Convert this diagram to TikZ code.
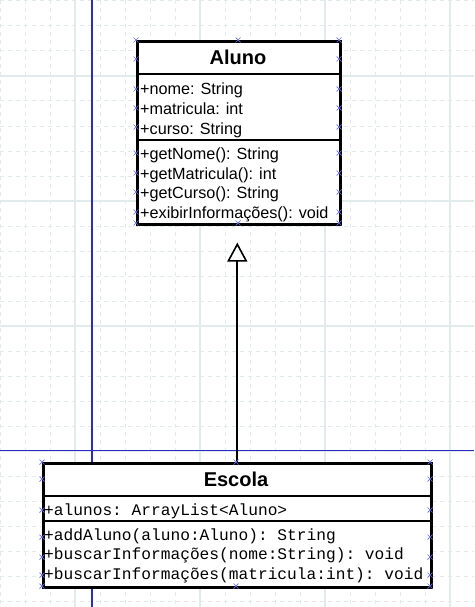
\documentclass[tikz,border=0pt]{standalone}
\usepackage{fontspec}
\setmainfont{Liberation Sans}
\setmonofont{Liberation Mono}
\usetikzlibrary{arrows.meta}
\definecolor{gridcol}{HTML}{E1EBEB}
\definecolor{axiscol}{HTML}{2A2AC4}
\definecolor{handlecol}{HTML}{6A6AE6}
\tikzset{
  classbox/.style={draw, line width=2.6pt, inner sep=0pt, anchor=north west},
  title/.style={anchor=base, inner sep=0pt, font=\fontsize{20}{22}\selectfont\bfseries},
  member/.style={anchor=base west, inner sep=0pt, font=\fontsize{16.2}{19}\selectfont},
  code/.style={anchor=base west, inner sep=0pt, font=\fontsize{16.2}{19}\selectfont\ttfamily},
  handle/.style={draw=handlecol, line width=0.7pt},
  inherit/.style={line width=2.2pt, -{Triangle[open, width=20pt, length=19pt, line width=1.6pt]}}
}

\begin{document}
\begin{tikzpicture}[x=1pt, y=-1pt]
\useasboundingbox (0,0) rectangle (474,607);
\fill[white] (0,0) rectangle (474,607);
% grid
\foreach \x in {0,25,...,475} \draw[gridcol, line width=1pt, dash pattern=on 4pt off 4pt] (\x,0) -- (\x,607);
\foreach \y in {1,26,...,606} \draw[gridcol, line width=1pt, dash pattern=on 4pt off 4pt] (0,\y) -- (474,\y);
\foreach \x in {75,200,325,450} \draw[gridcol, line width=1.2pt] (\x,0) -- (\x,607);
\foreach \y in {76,201,326,451} \draw[gridcol, line width=1.2pt] (0,\y) -- (474,\y);
\draw[axiscol, line width=1.2pt] (92,0) -- (92,607);
\draw[axiscol, line width=1.2pt] (0,450.5) -- (474,450.5);

% class Aluno
\node[classbox, fill=white, minimum width=203pt, minimum height=183pt] (aluno) at (136,40) {};
\draw[line width=2.6pt] (136,74) -- (339,74);
\draw[line width=2.6pt] (136,140) -- (339,140);
\node[title] (alunoname) at (238,64.5) {Aluno};
\node[member] (nome) at (140,95) {+nome: String};
\node[member] (matricula) at (140,114.5) {+matricula: int};
\node[member] (curso) at (140,134) {+curso: String};
\node[member] (getnome) at (140,159.5) {+getNome(): String};
\node[member] (getmatricula) at (140,179) {+getMatricula(): int};
\node[member] (getcurso) at (140,198.5) {+getCurso(): String};
\node[member] (exibir) at (140,218) {+exibirInformações(): void};

% class Escola
\node[classbox, fill=white, minimum width=388pt, minimum height=124pt] (escola) at (42,462) {};
\draw[line width=2.6pt] (42,496) -- (430,496);
\draw[line width=2.6pt] (42,521) -- (430,521);
\node[title] (escolaname) at (236,486) {Escola};
\node[code] (alunos) at (44,515) {+alunos: ArrayList<Aluno>};
\node[code] (addaluno) at (44,540) {+addAluno(aluno:Aluno): String};
\node[code] (buscarnome) at (44,559.5) {+buscarInformações(nome:String): void};
\node[code] (buscarmatricula) at (44,579) {+buscarInformações(matricula:int): void};

% generalization
\draw[inherit, shorten >=17pt] (escola.north) -- (escola.north |- aluno.south);

% selection handles
\foreach \y in {40,59,89,108,127,153,173,192,212,223} {
  \draw[handle] (136,\y) +(-2.5,-2.5) -- +(2.5,2.5) +(-2.5,2.5) -- +(2.5,-2.5);
  \draw[handle] (339,\y) +(-2.5,-2.5) -- +(2.5,2.5) +(-2.5,2.5) -- +(2.5,-2.5);
}
\foreach \y in {462,479,510,537,557,575,586} {
  \draw[handle] (42,\y) +(-2.5,-2.5) -- +(2.5,2.5) +(-2.5,2.5) -- +(2.5,-2.5);
  \draw[handle] (430,\y) +(-2.5,-2.5) -- +(2.5,2.5) +(-2.5,2.5) -- +(2.5,-2.5);
}
\foreach \x/\y in {238/40,238/223,236/462,236/586}
  \draw[handle] (\x,\y) +(-2.5,-2.5) -- +(2.5,2.5) +(-2.5,2.5) -- +(2.5,-2.5);
\end{tikzpicture}
\end{document}
